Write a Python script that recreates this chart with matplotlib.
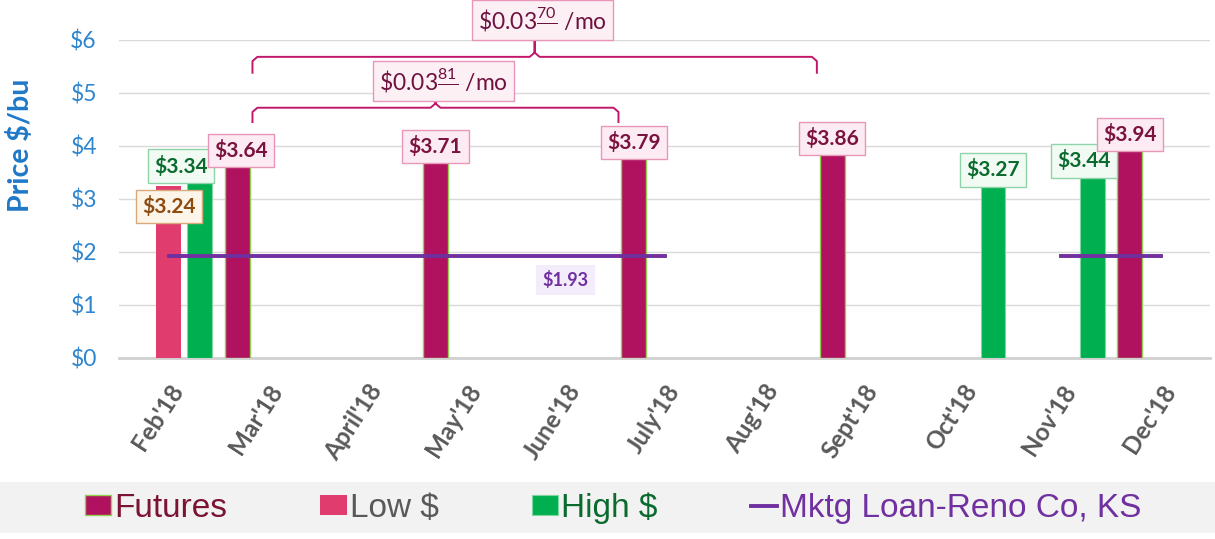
import numpy as np
import matplotlib
matplotlib.use("Agg")
import matplotlib.pyplot as plt
from matplotlib.patches import Rectangle

plt.rcParams['font.family'] = ['Lato', 'DejaVu Sans']
plt.rcParams['mathtext.fontset'] = 'custom'
plt.rcParams['mathtext.rm'] = 'Lato'
plt.rcParams['mathtext.it'] = 'Lato:italic'
plt.rcParams['mathtext.bf'] = 'Lato:bold'

nan = np.nan
months = ["Feb'18", "Mar'18", "April'18", "May'18", "June'18", "July'18",
          "Aug'18", "Sept'18", "Oct'18", "Nov'18", "Dec'18"]
futures = [nan, 3.64, nan, 3.71, nan, 3.79, nan, 3.86, nan, nan, 3.94]
low = [3.24, nan, nan, nan, nan, nan, nan, nan, nan, nan, nan]
high = [3.34, nan, nan, nan, nan, nan, nan, nan, 3.27, 3.44, nan]
loan = [1.93, 1.93, 1.93, 1.93, 1.93, 1.93, nan, nan, nan, 1.93, 1.93]
loan_label = "$1.93"
loan_label_at = 4  # June
spreads = [(1, 7, "70"), (1, 5, "81")]  # (from month, to month, cents digits)

C_FUT = '#B0125F'
C_LOW = '#E03C6E'
C_HIGH = '#00B050'
C_LOAN = '#7030A0'
C_BRACE = '#C0176A'

fig = plt.figure(figsize=(12.15, 5.39), dpi=100)
ax = fig.add_axes([0.098, 0.336, 0.898, 0.590])

x = np.arange(len(months))
w = 0.25
off = 0.31
fut = np.array(futures)
lo = np.array(low)
hi = np.array(high)

m = ~np.isnan(fut)
b_fut = ax.bar(x[m] - off, fut[m], w, color=C_FUT, edgecolor='#92D050', linewidth=1, zorder=3)
m = ~np.isnan(lo)
b_low = ax.bar(x[m], lo[m], w, color=C_LOW, zorder=3)
m = ~np.isnan(hi)
b_high = ax.bar(x[m] + off, hi[m], w, color=C_HIGH, edgecolor='#7FD6A0', linewidth=0.8, zorder=3)
ln, = ax.plot(x, loan, color=C_LOAN, lw=2.8, zorder=4)

lbl_font = dict(fontsize=15, fontweight='bold')

def tag(xv, yv, txt, fc, ec, tc, dy=3, va='bottom', dx=0, z=6):
    ax.annotate(txt, (xv, yv), xytext=(dx, dy), textcoords='offset points',
                ha='center', va=va, color=tc, zorder=z, **lbl_font,
                bbox=dict(boxstyle='square,pad=0.3', fc=fc, ec=ec, lw=1))

for xi, v in zip(x, lo):
    if not np.isnan(v):
        tag(xi, v, f"${v:.2f}", '#FDF4EA', '#D9A97C', '#8E4B10', dy=-7, va='top')
high_dx = {0: -13, 9: -6}
for xi, v in zip(x, hi):
    if not np.isnan(v):
        tag(xi + off, v, f"${v:.2f}", '#F1FBF4', '#8FD3A8', '#0B6B2E', dx=high_dx.get(xi, 0))
fut_dx = {1: 3}
for xi, v in zip(x, fut):
    if not np.isnan(v):
        tag(xi - off, v, f"${v:.2f}", '#FCEBF2', '#E896BA', '#7B1340', dx=fut_dx.get(xi, 0), z=7)

ax.annotate(loan_label, (x[loan_label_at], loan[loan_label_at]), xytext=(0, -11),
            textcoords='offset points', ha='center', va='top', color=C_LOAN,
            fontsize=13, fontweight='bold', zorder=6,
            bbox=dict(boxstyle='square,pad=0.35', fc='#F3ECFA', ec='none'))

# braces showing the monthly carry between futures months
brace_levels = [(5.38, 5.68, 6.0, 6.38), (4.45, 4.72, 4.94, 5.23)]
for (i0, i1, cents), (ybot, yh, ytip, ylab) in zip(spreads, brace_levels):
    x0 = i0 - off + w / 2 + 0.03
    x1 = i1 - off - w / 2 - 0.03
    xm = (x0 + x1) / 2
    rx, ry = 0.05, 0.08
    bx = [x0, x0, x0 + rx, xm - rx, xm, xm, xm, xm + rx, x1 - rx, x1, x1]
    by = [ybot, yh - ry, yh, yh, yh + ry, ytip, yh + ry, yh, yh, yh - ry, ybot]
    ax.plot(bx, by, color=C_BRACE, lw=1.4, clip_on=False, zorder=5)
    ax.text(xm + 0.08, ylab, r"\$0.03$\frac{%s}{\,}$ /mo" % cents, ha='center', va='center',
            fontsize=16.5, color='#6E1240', clip_on=False, zorder=6,
            bbox=dict(boxstyle='square,pad=0.25', fc='#FDF0F5', ec='#E896BA', lw=1))

ax.set_xlim(-0.5, len(months) - 0.5)
ax.set_ylim(0, 6)
ax.set_yticks(range(0, 7))
ax.set_yticklabels([f"${v}" for v in range(0, 7)], fontsize=16.5, color='#2F86D0')
ax.set_xticks(x)
ax.set_xticklabels(months, rotation=57, ha='right', va='top', rotation_mode='anchor',
                   fontsize=17.5, fontweight='bold', color='#595959')
ax.tick_params(length=0)
ax.tick_params(axis='y', pad=16)
ax.tick_params(axis='x', pad=16)
ax.grid(axis='y', color='#D9D9D9', lw=1, zorder=0)
for s in ['top', 'right', 'left']:
    ax.spines[s].set_visible(False)
ax.spines['bottom'].set_color('#D0D0D0')
ax.spines['bottom'].set_linewidth(2)
ax.set_ylabel("Price $/bu", fontsize=20.5, fontweight='bold', color='#1F78C8')
ax.yaxis.set_label_coords(-0.078, 0.67)

fig.patches.append(Rectangle((0, 0.011), 1, 0.095, transform=fig.transFigure,
                             fc='#F2F2F2', ec='none', zorder=0))
leg = fig.legend([b_fut, b_low, b_high, ln],
                 ['Futures', 'Low $', 'High $', 'Mktg Loan-Reno Co, KS'],
                 loc='center', bbox_to_anchor=(613 / 1215, 1 - 508 / 539), ncol=4,
                 frameon=False, handlelength=0.8, handleheight=0.57, handletextpad=0.08,
                 columnspacing=2.8,
                 prop=dict(family='Liberation Sans', size=24),
                 labelcolor=['#7B1333', '#595959', '#0B6B2E', C_LOAN])

fig.savefig("out.png", dpi=100)
